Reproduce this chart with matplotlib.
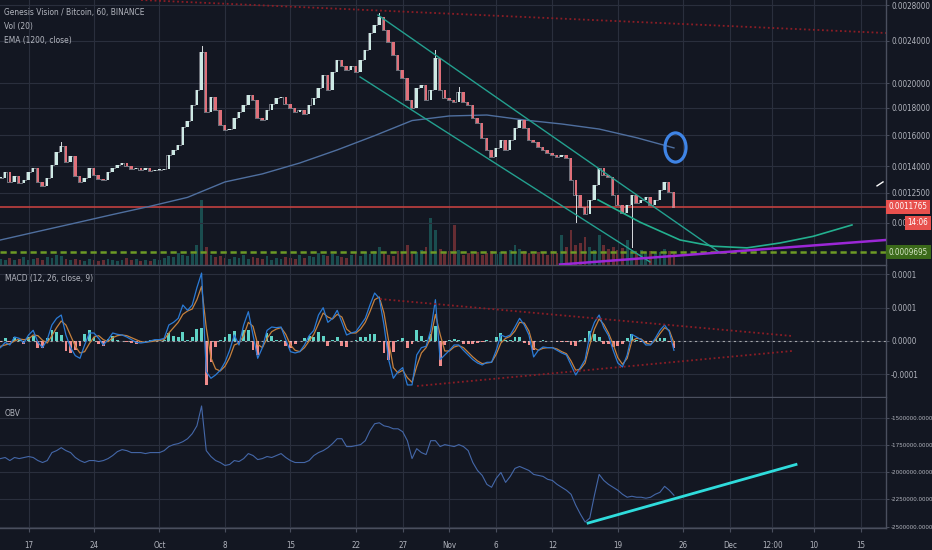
import numpy as np
import matplotlib.pyplot as plt
from matplotlib.markers import MarkerStyle
from matplotlib.transforms import Affine2D, blended_transform_factory
from matplotlib.ticker import FixedLocator, NullLocator

# ----------------------------
# basic configuration
# ----------------------------
BG = '#131722'
GRID = '#2a2f3d'
SEP = '#4a4f5e'
TXT = '#b2b5be'
plt.rcParams['font.family'] = ['DejaVu Sans']
plt.rcParams['font.stretch'] = 'condensed'

# ----------------------------
# data (days counted from Sep 17, 12h steps starting Sep 14)
# ----------------------------
close = np.array([
    0.001333, 0.001367, 0.001310, 0.001344, 0.001304, 0.001321, 0.001367, 0.001391, 0.001310, 0.001288,
    0.001333, 0.001409, 0.001490, 0.001529, 0.001428, 0.001465, 0.001344, 0.001310, 0.001333, 0.001391,
    0.001350, 0.001327, 0.001321, 0.001367, 0.001391, 0.001409, 0.001421, 0.001403, 0.001385, 0.001391,
    0.001379, 0.001391, 0.001373, 0.001379, 0.001379, 0.001385, 0.001471, 0.001503, 0.001535, 0.001659,
    0.001702, 0.001823, 0.001944, 0.002288, 0.001769, 0.001887, 0.001784, 0.001673, 0.001637, 0.001644,
    0.001724, 0.001769, 0.001823, 0.001903, 0.001862, 0.001724, 0.001709, 0.001784, 0.001831, 0.001879,
    0.001887, 0.001831, 0.001800, 0.001769, 0.001784, 0.001754, 0.001823, 0.001879, 0.001961, 0.002073,
    0.001944, 0.002100, 0.002211, 0.002155, 0.002118, 0.002155, 0.002100, 0.002211, 0.002308, 0.002483,
    0.002570, 0.002659, 0.002515, 0.002389, 0.002259, 0.002118, 0.002047, 0.001862, 0.001800, 0.001961,
    0.001986, 0.001862, 0.001944, 0.002230, 0.001944, 0.001879, 0.001862, 0.001846, 0.001928, 0.001846,
    0.001823, 0.001724, 0.001687, 0.001583, 0.001503, 0.001459, 0.001516, 0.001569, 0.001503, 0.001569,
    0.001651, 0.001709, 0.001651, 0.001569, 0.001555, 0.001522, 0.001503, 0.001484, 0.001471, 0.001459,
    0.001471, 0.001452, 0.001321, 0.001239, 0.001177, 0.001142, 0.001213, 0.001293, 0.001391, 0.001350,
    0.001338, 0.001239, 0.001187, 0.001147, 0.001187, 0.001239, 0.001197, 0.001213, 0.001228, 0.001187,
    0.001213, 0.001266, 0.001310, 0.001255, 0.001177,
])

volume = np.array([
    6, 5, 7, 5, 6, 8, 5, 6, 7, 5, 8,
    7, 10, 9, 6, 5, 6, 5, 4, 6, 5,
    4, 5, 6, 5, 4, 5, 7, 5, 6, 4,
    5, 4, 6, 5, 7, 9, 8, 12, 10, 9,
    11, 20, 65, 18, 10, 8, 9, 7, 6, 8,
    7, 10, 6, 8, 7, 6, 9, 5, 7, 6,
    8, 7, 6, 10, 7, 9, 8, 12, 10, 9,
    11, 9, 8, 7, 10, 12, 9, 13, 11, 14,
    18, 12, 10, 9, 14, 12, 20, 11, 13, 15,
    18, 47, 35, 16, 12, 14, 40, 15, 10, 12,
    11, 13, 10, 12, 14, 11, 13, 12, 15, 20,
    16, 14, 12, 11, 13, 12, 10, 14, 12, 30,
    18, 35, 20, 22, 28, 18, 15, 30, 20, 16,
    18, 15, 17, 25, 14, 12, 15, 13, 14, 12,
    13, 16, 14, 12,
])

# MACD and signal in units of 1e-6
macd_u = np.array([
    -10, -2, -6, 6, 4, -3, 9, 16, -2, -10,
    2, 24, 34, 39, 9, -10, -22, -26, -6, 12,
    12, 4, -6, 2, 12, 10, 9, 6, 2, -2,
    -3, -2, 0, 2, 2, 4, 24, 28, 34, 54,
    46, 54, 80, 102, -46, -56, -51, -44, -32, -14,
    9, -6, 24, 44, 9, -26, -10, 16, 21, 20,
    21, 2, -16, -18, -16, -6, 8, 16, 39, 50,
    28, 34, 46, 28, 9, 12, 14, 24, 34, 54,
    72, 64, 24, -28, -56, -46, -40, -66, -66, -21,
    -10, -8, 16, 62, -28, -21, -14, -6, -6, -14,
    -21, -28, -33, -36, -32, -32, -14, 9, 6, 9,
    21, 34, 24, 9, -24, -14, -9, -10, -10, -14,
    -18, -21, -36, -51, -40, -28, 9, 28, 39, 20,
    8, -14, -33, -39, -21, 10, 6, 2, -6, -6,
    4, 16, 24, 14, -14,
])
signal_u = np.array([
    -8, -6, -4, 0, 3, 2, 3, 9, 8, 1,
    -3, 8, 20, 30, 24, 8, -8, -18, -16, -4,
    6, 8, 2, -1, 5, 8, 9, 8, 5, 2,
    -1, -2, -1, 0, 1, 2, 12, 20, 28, 40,
    45, 48, 62, 82, 20, -25, -42, -45, -38, -25,
    -6, -3, 8, 28, 22, -5, -10, 4, 14, 18,
    20, 10, -6, -14, -16, -10, 0, 10, 26, 42,
    36, 33, 40, 36, 18, 12, 12, 18, 28, 44,
    62, 66, 42, 0, -40, -48, -44, -55, -62, -38,
    -18, -10, 5, 40, 10, -15, -15, -9, -7, -10,
    -17, -24, -30, -34, -33, -32, -20, -3, 4, 7,
    15, 28, 27, 15, -10, -14, -11, -10, -10, -12,
    -16, -19, -30, -44, -42, -33, -6, 18, 33, 25,
    12, -5, -25, -35, -26, 0, 4, 3, -3, -5,
    1, 11, 20, 16, -3,
])

# OBV in thousands
obv_k = np.array([
    -1876, -1866, -1894, -1866, -1876, -1866, -1857, -1866, -1894, -1912,
    -1894, -1821, -1803, -1776, -1803, -1821, -1866, -1894, -1912, -1894,
    -1894, -1903, -1894, -1876, -1848, -1812, -1794, -1803, -1821, -1821,
    -1821, -1830, -1821, -1821, -1821, -1803, -1766, -1748, -1739, -1721,
    -1694, -1648, -1576, -1394, -1803, -1857, -1894, -1912, -1939, -1930,
    -1894, -1903, -1876, -1830, -1848, -1885, -1876, -1857, -1866, -1848,
    -1830, -1866, -1894, -1912, -1912, -1912, -1894, -1848, -1821, -1803,
    -1776, -1739, -1694, -1694, -1766, -1766, -1757, -1748, -1712, -1621,
    -1557, -1548, -1576, -1585, -1603, -1603, -1630, -1712, -1876, -1785,
    -1821, -1839, -1712, -1712, -1766, -1748, -1757, -1766, -1748, -1766,
    -1803, -1912, -1985, -2030, -2112, -2139, -2057, -2003, -2094, -2039,
    -1966, -1948, -1966, -1985, -2021, -2030, -2039, -2066, -2076, -2112,
    -2139, -2166, -2203, -2303, -2385, -2457, -2421, -2212, -2021, -2076,
    -2112, -2139, -2166, -2203, -2230, -2221, -2230, -2230, -2239, -2230,
    -2203, -2185, -2130, -2166, -2212,
])

# sparse wick extremes
wick_days = [3.4, 18.7, 37.4, 43.5, 45.9, 58.6, 64.3]
wick_prices = [0.001555, 0.002348, 0.002705, 0.002308, 0.001969, 0.001104, 0.000991]

# EMA(1200)
ema_days = np.arange(-3, 70, 4)
ema = [0.001021, 0.001059, 0.001098, 0.001139, 0.001180, 0.001226, 0.001310, 0.001356,
       0.001421, 0.001503, 0.001598, 0.001705, 0.001739, 0.001746, 0.001709, 0.001680,
       0.001644, 0.001584, 0.001516]

# drawings
chan_up_days, chan_up_prices = [37.36, 73.93], [0.002682, 0.000966]
chan_lo_days, chan_lo_prices = [35.44, 66.44], [0.002056, 0.000929]
arc_days = [60.88, 65.38, 69.65, 73.18, 76.81, 80.34, 83.87, 88.03]
arc_prices = [0.001213, 0.001102, 0.001021, 0.000994, 0.000987, 0.001008, 0.001037, 0.001089]
purple_days, purple_prices = [56.82, 91.67], [0.000919, 0.001021]
red_dot_days, red_dot_prices = [12.03, 91.67], [0.002861, 0.002483]
circle_day, circle_price = 69.11, 0.001522
cursor_days, cursor_prices = [90.71, 91.35], [0.001288, 0.001310]
last_price = 0.0011765
support_price = 0.0009695

macd_up_days, macd_up_vals = [37.58, 81.62], [63e-6, 7.5e-6]
macd_lo_days, macd_lo_vals = [41.53, 81.62], [-67.6e-6, -15e-6]
obv_trend_days, obv_trend_vals = [59.82, 82.05], [-2466400, -1930000]

# axis ticks
tick_days = [0, 7, 14, 21, 28, 35, 40, 45, 50, 56, 63, 70, 75, 79.5, 84, 89]
tick_labels = ['17', '24', 'Oct', '8', '15', '22', '27', 'Nov', '6', '12', '19',
               '26', 'Dec', '12:00', '10', '15']
price_ticks = [0.0028, 0.0024, 0.0020, 0.0018, 0.0016, 0.0014, 0.00125, 0.0011]
# the 0.0011000 label is mostly hidden behind the countdown box
price_labels = ['0.0028000', '0.0024000', '0.0020000', '0.0018000', '0.0016000',
                '0.0014000', '0.0012500', '0.00']
macd_ticks = [0.0001, 0.00005, 0.0, -0.00005]
macd_labels = ['0.0001', '0.0001', '0.0000', '-0.0001']
obv_ticks = [-1500000, -1750000, -2000000, -2250000, -2500000]
obv_labels = ['-1500000.0000', '-1750000.0000', '-2000000.0000', '-2250000.0000', '-2500000.0000']

# ----------------------------
# figure
# ----------------------------
fig = plt.figure(figsize=(9.32, 5.5), dpi=100, facecolor=BG)
W = 886 / 932
ax_p = fig.add_axes([0, 285 / 550, W, 265 / 550])
ax_v = ax_p.twinx()          # volume overlay, created first so ticks can be set after
ax_m = fig.add_axes([0, 153 / 550, W, 131 / 550], sharex=ax_p)
ax_o = fig.add_axes([0, 22 / 550, W, 130 / 550], sharex=ax_p)

for ax, ysize in ((ax_p, 5.8), (ax_m, 5.8), (ax_o, 4.5)):
    ax.set_facecolor(BG)
    for s in ('top', 'left'):
        ax.spines[s].set_visible(False)
    for s in ('right', 'bottom'):
        ax.spines[s].set_color(SEP)
        ax.spines[s].set_linewidth(1.0)
    ax.yaxis.tick_right()
    ax.tick_params(axis='y', which='both', left=False, labelleft=False, right=True, labelright=True,
                   color=SEP, labelcolor=TXT, labelsize=ysize, length=2.5, width=0.7, pad=1.2)
    ax.set_xticks(tick_days)
    ax.grid(True, color=GRID, linewidth=0.8)
    ax.set_axisbelow(True)

ax_p.tick_params(axis='x', labelbottom=False, length=0)
ax_m.tick_params(axis='x', labelbottom=False, length=0)
ax_o.set_xticklabels(tick_labels)
ax_o.tick_params(axis='x', color=SEP, labelcolor=TXT, labelsize=5.8, length=3, pad=6)
ax_p.set_xlim(-3.05, 91.67)

# ----------------------------
# price pane
# ----------------------------
days = -3.0 + 0.5 * np.arange(len(close))
opens = np.r_[close[0], close[:-1]]
up = close >= opens
lo = np.minimum(opens, close)
hi = np.maximum(np.maximum(opens, close), lo * 1.005)
cols = np.where(up, '#cde9e4', '#e0707a')

ax_p.set_yscale('log')
ax_p.set_ylim(0.000917, 0.002861)
ax_p.yaxis.set_major_locator(FixedLocator(price_ticks))
ax_p.yaxis.set_minor_locator(NullLocator())
ax_p.set_yticklabels(price_labels)

ax_v.set_ylim(0, volume.max() * 265 / 65)
ax_v.axis('off')
vcols = np.where(up, '#26a69a', '#ef5350')
ax_v.bar(days, volume, width=0.3, color=vcols, alpha=0.38, linewidth=0)
ax_v.set_zorder(0)
ax_p.set_zorder(1)
ax_p.patch.set_visible(False)

ax_p.axhline(support_price, color='#6d9a25', lw=1.8, ls=(0, (2.5, 1.5)), zorder=2)
ax_p.axhline(last_price, color='#c2413f', lw=1.2, zorder=2)
ax_p.plot(ema_days, ema, color='#4f6f9f', lw=1.0, zorder=2)
ax_p.plot(red_dot_days, red_dot_prices, color='#8c1d25', lw=1.3, ls=(0, (1, 1.5)), zorder=2)

for d, w in zip(wick_days, wick_prices):
    j = int(np.argmin(np.abs(days - d)))
    ax_p.plot([days[j], days[j]], [close[j], w], color='#d9dde0', lw=0.7, zorder=3)
ax_p.plot(days, close, drawstyle='steps-mid', color='#c9ccd4', lw=0.6, alpha=0.6, zorder=3)
ax_p.bar(days, hi - lo, bottom=lo, width=0.26, color=cols, linewidth=0, zorder=3)

ax_p.plot(chan_up_days, chan_up_prices, color='#23a08f', lw=1.0, zorder=4)
ax_p.plot(chan_lo_days, chan_lo_prices, color='#23a08f', lw=1.0, zorder=4)
ax_p.plot(arc_days, arc_prices, color='#23b08f', lw=1.2, zorder=4)
ax_p.plot(purple_days, purple_prices, color='#9b27d6', lw=1.8, zorder=4)
ax_p.plot(cursor_days, cursor_prices, color='white', lw=1.0, zorder=4)

ell = MarkerStyle('o', transform=Affine2D().scale(0.72, 1.0))
ax_p.plot([circle_day], [circle_price], marker=ell, markersize=21, markerfacecolor='none',
          markeredgecolor='#3f84e5', markeredgewidth=2.3, zorder=5)

tr = blended_transform_factory(ax_p.transAxes, ax_p.transData)
ax_p.text(1.003, last_price, '0.0011765', transform=tr, color='white', fontsize=5.8,
          va='center', ha='left', zorder=6,
          bbox=dict(boxstyle='square,pad=0.35', fc='#e8504d', ec='none'))
ax_p.text(1.0245, 0.0011, '14:06', transform=tr, color='white', fontsize=5.8,
          va='center', ha='left', zorder=6,
          bbox=dict(boxstyle='square,pad=0.3', fc='#e8504d', ec='none'))
ax_p.text(1.003, support_price, '0.0009695', transform=tr, color='#d8e8c8', fontsize=5.8,
          va='center', ha='left', zorder=6,
          bbox=dict(boxstyle='square,pad=0.35', fc='#3b6a1a', ec='none'))

ax_p.text(4 / 886, 1 - 13 / 265, 'Genesis Vision / Bitcoin, 60, BINANCE', transform=ax_p.transAxes,
          color=TXT, fontsize=6, va='center')
ax_p.text(4 / 886, 1 - 26 / 265, 'Vol (20)', transform=ax_p.transAxes, color=TXT, fontsize=6, va='center')
ax_p.text(4 / 886, 1 - 40 / 265, 'EMA (1200, close)', transform=ax_p.transAxes, color=TXT,
          fontsize=6, va='center')

# ----------------------------
# MACD pane
# ----------------------------
macd = macd_u * 1e-6
signal = signal_u * 1e-6
hist = macd - signal
ax_m.set_ylim(-0.0000841, 0.0001126)
ax_m.set_yticks(macd_ticks)
ax_m.set_yticklabels(macd_labels)
ax_m.bar(days, hist, width=0.3, color=np.where(hist >= 0, '#5fd3c6', '#f08c8c'), linewidth=0, zorder=2)
ax_m.axhline(0, color='#d8d8d8', lw=0.8, ls=(0, (2, 3)), alpha=0.7, zorder=2)
ax_m.plot(days, signal, color='#c6813d', lw=0.9, zorder=3)
ax_m.plot(days, macd, color='#2b7bd6', lw=0.9, zorder=3)
ax_m.plot(macd_up_days, macd_up_vals, color='#8c1d25', lw=1.3, ls=(0, (1, 1.5)), zorder=3)
ax_m.plot(macd_lo_days, macd_lo_vals, color='#8c1d25', lw=1.3, ls=(0, (1, 1.5)), zorder=3)
ax_m.text(5 / 886, 1 - 12 / 131, 'MACD (12, 26, close, 9)', transform=ax_m.transAxes,
          color=TXT, fontsize=6, va='center')

# ----------------------------
# OBV pane
# ----------------------------
obv = obv_k * 1000
ax_o.set_ylim(-2511800, -1321000)
ax_o.set_yticks(obv_ticks)
ax_o.set_yticklabels(obv_labels)
ax_o.plot(days, obv, color='#4467a8', lw=0.8, zorder=3)
ax_o.plot(obv_trend_days, obv_trend_vals, color='#2fdcdc', lw=2.0, zorder=4)
ax_o.text(5 / 886, 1 - 15 / 130, 'OBV', transform=ax_o.transAxes, color=TXT, fontsize=6, va='center')

fig.savefig('out.png', dpi=100, facecolor=BG)
